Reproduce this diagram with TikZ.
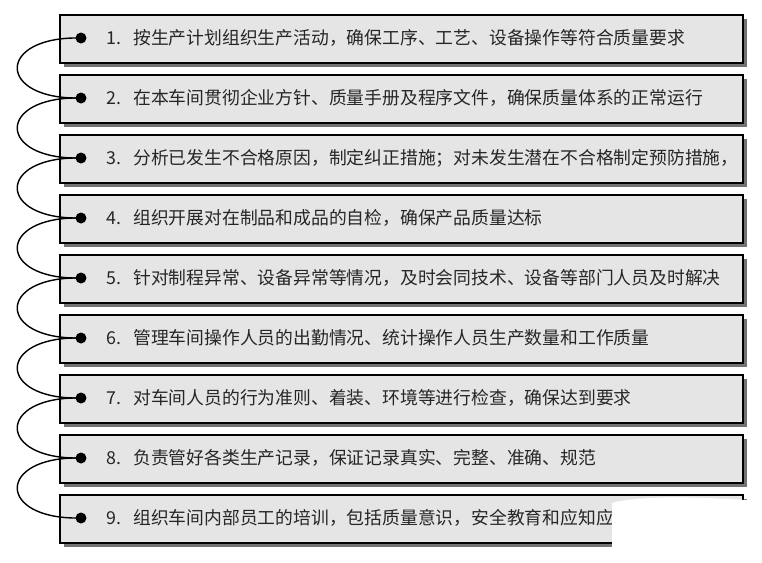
\documentclass[tikz,border=0pt]{standalone}
\usepackage{fontspec}
\newfontfamily\cjk{Noto Sans CJK SC}
\begin{document}
\begin{tikzpicture}[x=1pt,y=-1pt,
  itembox/.style={draw=black,line width=1.5pt,fill=black!10,minimum width=683pt,minimum height=48pt,anchor=north west,inner sep=0pt},
  shadowbox/.style={fill=black!55,minimum width=683pt,minimum height=48pt,anchor=north west,inner sep=0pt},
  dot/.style={circle,fill=black,inner sep=0pt,minimum size=11pt},
  link/.style={line width=1.4pt},
  lbl/.style={anchor=west,font=\cjk\fontsize{17.8}{20}\selectfont,text=black!85}]
\useasboundingbox (0,0) rectangle (762,562);
\foreach \i/\t in {1/按生产计划组织生产活动，确保工序、工艺、设备操作等符合质量要求,
2/在本车间贯彻企业方针、质量手册及程序文件，确保质量体系的正常运行,
3/分析已发生不合格原因，制定纠正措施；对未发生潜在不合格制定预防措施，,
4/组织开展对在制品和成品的自检，确保产品质量达标,
5/针对制程异常、设备异常等情况，及时会同技术、设备等部门人员及时解决,
6/管理车间操作人员的出勤情况、统计操作人员生产数量和工作质量,
7/对车间人员的行为准则、着装、环境等进行检查，确保达到要求,
8/负责管好各类生产记录，保证记录真实、完整、准确、规范,
9/组织车间内部员工的培训，包括质量意识，安全教育和应知应会}{
  \pgfmathsetmacro\yy{14+60*(\i-1)}
  \node[shadowbox] (s\i) at (64,\yy+5) {};
  \node[itembox] (b\i) at (59,\yy) {};
  \node[dot] (d\i) at (81,\yy+24) {};
  \node[lbl] (t\i) at (103,\yy+24) {\i.\hspace{12pt}\t};
}
\foreach \i [evaluate=\i as \j using int(\i+1)] in {1,...,8}{
  \draw[link] (d\i.center) .. controls +(-85,-2) and +(-85,2) .. (d\j.center);
}
\fill[white] (612,503) .. controls (640,495) and (700,497) .. (745,500) -- (762,500) -- (762,562) -- (612,562) -- cycle;
\end{tikzpicture}
\end{document}
